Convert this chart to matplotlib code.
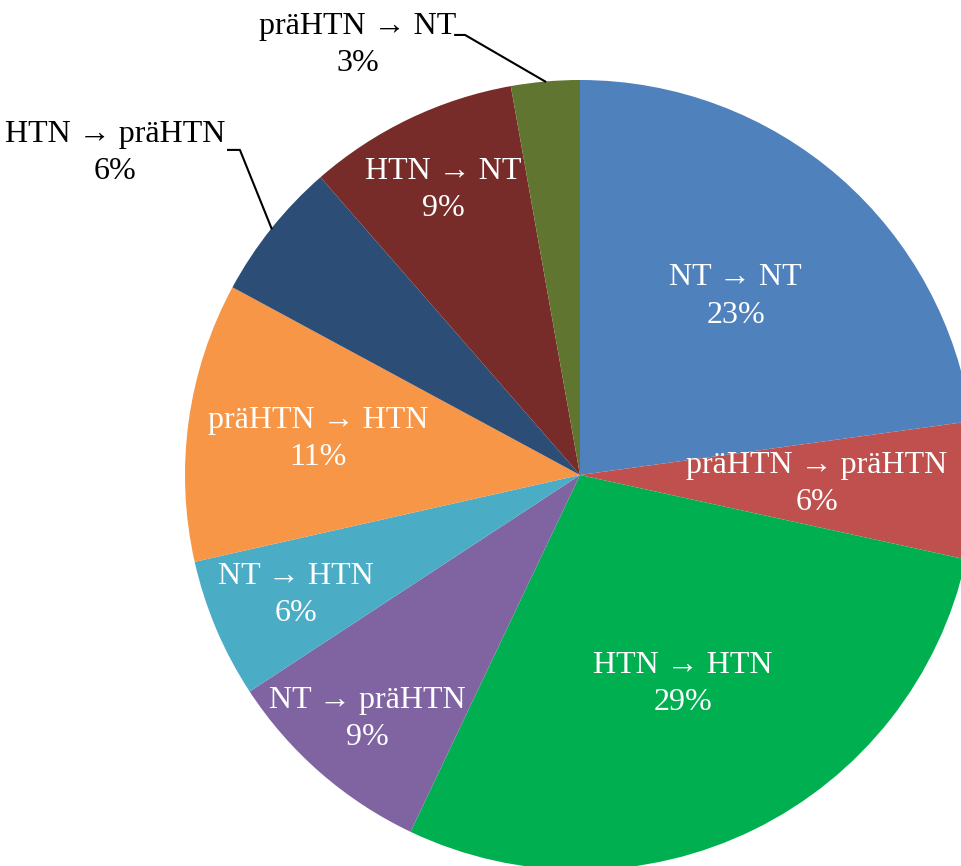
import matplotlib
matplotlib.use("Agg")
import matplotlib.pyplot as plt
import numpy as np

categories = ["NT → NT", "präHTN → präHTN", "HTN → HTN", "NT → präHTN", "NT → HTN",
              "präHTN → HTN", "HTN → präHTN", "HTN → NT", "präHTN → NT"]
shares = [22.8, 5.6, 28.6, 8.7, 5.7, 11.4, 5.7, 8.6, 2.8]
pct_labels = ["23%", "6%", "29%", "9%", "6%", "11%", "6%", "9%", "3%"]
colors = ["#4F81BD", "#C0504D", "#00B050", "#8064A2", "#4BACC6",
          "#F79646", "#2C4D75", "#772C2A", "#5F7530"]

# layout: radial distance of inside labels (None = outside label with leader)
label_r = [0.6, 0.6, 0.59, 0.82, 0.78, 0.67, None, 0.8, None]
outside_text = {6: (-1.177, 0.816), 8: (-0.562, 1.089)}
outside_elbow = {6: [(-0.861, 0.823), (-0.891, 0.823)],
                 8: [(-0.291, 1.114), (-0.316, 1.114)]}

fam = ["Liberation Serif", "DejaVu Serif"]
fs = 23
ls = 1.38

fig = plt.figure(figsize=(9.62, 8.66), dpi=100)
ax = fig.add_axes([0, 0, 1, 1])
wedges, _ = ax.pie(shares, colors=colors, startangle=90, counterclock=False,
                   radius=1.0, wedgeprops=dict(linewidth=0))
ax.set_aspect("auto")
ax.set_xlim(-580 / 395, (962 - 580) / 395)
ax.set_ylim((475 - 866) / 395, 475 / 395)
ax.axis("off")

for i, w in enumerate(wedges):
    mid = np.deg2rad((w.theta1 + w.theta2) / 2)
    txt = f"{categories[i]}\n{pct_labels[i]}"
    if label_r[i] is not None:
        r = label_r[i]
        ax.text(r * np.cos(mid), r * np.sin(mid), txt, ha="center", va="center",
                color="white", fontsize=fs, family=fam, linespacing=ls)
    else:
        ex, ey = np.cos(mid), np.sin(mid)
        pts = [(ex, ey)] + outside_elbow[i]
        ax.plot([p[0] for p in pts], [p[1] for p in pts], color="black", lw=1.5)
        tx, ty = outside_text[i]
        ax.text(tx, ty, txt, ha="center", va="center", color="black",
                fontsize=fs, family=fam, linespacing=ls)

fig.savefig("out.png", dpi=100)
